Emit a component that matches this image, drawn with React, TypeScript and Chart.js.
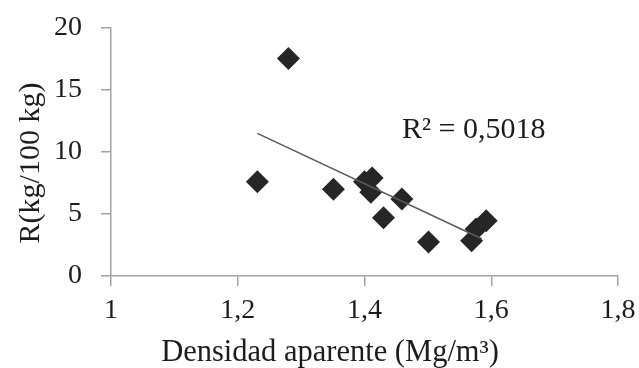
import React, { useEffect, useRef } from "react";
import { Chart, registerables } from "chart.js";

Chart.register(...registerables);

// Data
const densidad = [1.231, 1.28, 1.351, 1.4, 1.412, 1.41, 1.43, 1.459, 1.501, 1.569, 1.576, 1.592];
const rValues = [7.6, 17.55, 7.0, 7.6, 7.9, 6.75, 4.7, 6.2, 2.75, 2.85, 3.8, 4.45];
const trendX = [1.231, 1.585];
const trendY = [11.5, 3.0];
const xTicks = [1, 1.2, 1.4, 1.6, 1.8];
const xTickLabels = ["1", "1,2", "1,4", "1,6", "1,8"];
const yTicks = [0, 5, 10, 15, 20];
const yTickLabels = ["0", "5", "10", "15", "20"];
const xTitle = "Densidad aparente (Mg/m³)";
const yTitle = "R(kg/100 kg)";
const r2Label = "R² = 0,5018";

const SERIF = "'Liberation Serif', 'Times New Roman', serif";
const AXIS = "#a3a3a3";
const TEXT = "#1c1c1c";

export default function App() {
  const ref = useRef<HTMLCanvasElement | null>(null);
  useEffect(() => {
    if (!ref.current) return;
    const textPlugin = {
      id: "texts",
      afterDraw(chart: any) {
        const ctx = chart.ctx;
        ctx.save();
        ctx.fillStyle = TEXT;
        ctx.font = `30px ${SERIF}`;
        ctx.textAlign = "left";
        ctx.textBaseline = "alphabetic";
        ctx.fillText(r2Label, 402, 138);
        ctx.font = `30.5px ${SERIF}`;
        ctx.textAlign = "center";
        ctx.fillText(xTitle, 330, 361);
        ctx.font = `30px ${SERIF}`;
        ctx.translate(31, 163);
        ctx.rotate(-Math.PI / 2);
        ctx.textBaseline = "middle";
        ctx.fillText(yTitle, 0, 0);
        ctx.restore();
      },
    };
    const chart = new Chart(ref.current, {
      type: "scatter",
      data: {
        datasets: [
          {
            type: "line",
            data: trendX.map((x, i) => ({ x, y: trendY[i] })),
            borderColor: "#5a5a5a",
            borderWidth: 1.5,
            pointRadius: 0,
            order: 0,
          } as any,
          {
            data: densidad.map((x, i) => ({ x, y: rValues[i] })),
            pointStyle: "rectRot",
            pointRadius: 11.5,
            backgroundColor: "#262626",
            borderColor: "#262626",
            borderWidth: 0,
            order: 1,
          },
        ],
      },
      options: {
        animation: false,
        responsive: false,
        layout: { padding: { left: 0, right: 21, top: 28, bottom: 0 } },
        plugins: { legend: { display: false }, tooltip: { enabled: false } },
        scales: {
          x: {
            type: "linear",
            min: 1,
            max: 1.8,
            afterBuildTicks: (s: any) => {
              s.ticks = xTicks.map((v) => ({ value: v }));
            },
            afterFit: (s: any) => {
              s.height = 92;
              s.paddingLeft = 0;
              s.paddingRight = 0;
              s.paddingTop = 0;
              s.paddingBottom = 0;
            },
            ticks: {
              callback: (v: any) => xTickLabels[xTicks.indexOf(Number(v))] ?? "",
              font: { family: SERIF, size: 28 },
              color: TEXT,
              padding: 8,
              maxRotation: 0,
              autoSkip: false,
            },
            grid: { drawOnChartArea: false, tickLength: 10, color: AXIS, lineWidth: 1.5 },
            border: { color: AXIS, width: 1.5 },
          },
          y: {
            type: "linear",
            min: 0,
            max: 20,
            afterBuildTicks: (s: any) => {
              s.ticks = yTicks.map((v) => ({ value: v }));
            },
            afterFit: (s: any) => {
              s.width = 111;
              s.paddingLeft = 0;
              s.paddingRight = 0;
              s.paddingTop = 0;
              s.paddingBottom = 0;
            },
            ticks: {
              callback: (v: any) => yTickLabels[yTicks.indexOf(Number(v))] ?? "",
              font: { family: SERIF, size: 28 },
              color: TEXT,
              padding: 19,
              autoSkip: false,
            },
            grid: { drawOnChartArea: false, tickLength: 10, color: AXIS, lineWidth: 1.5 },
            border: { color: AXIS, width: 1.5 },
          },
        },
      },
      plugins: [textPlugin],
    } as any);
    return () => chart.destroy();
  }, []);
  return (
    <div style={{ position: "fixed", left: 0, top: 0, width: 639, height: 368, background: "#fff" }}>
      <canvas ref={ref} width={639} height={368} style={{ display: "block" }} />
    </div>
  );
}
